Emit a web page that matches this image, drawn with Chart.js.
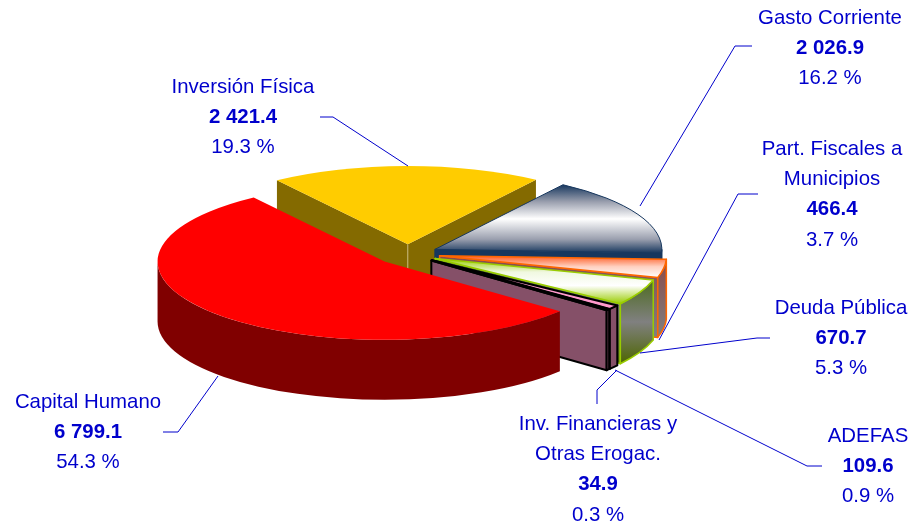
<!DOCTYPE html>
<html lang="es">
<head>
    <meta charset="UTF-8">
    <title>Gasto por capitulo</title>
    <script src="https://cdn.jsdelivr.net/npm/chart.js"></script>
    <style>
        html, body { margin: 0; padding: 0; background: #fff; }
        canvas { display: block; }
    </style>
</head>
<body>
    <canvas id="pieChart" width="913" height="525"></canvas>
    <script>
        // data, clockwise from the yellow slice
        const categories = ['Inversión Física', 'Gasto Corriente', 'Part. Fiscales a Municipios', 'Deuda Pública', 'ADEFAS', 'Inv. Financieras y Otras Erogac.', 'Capital Humano'];
        const values = [2421.4, 2026.9, 466.4, 670.7, 109.6, 34.9, 6799.1];
        const percents = [19.3, 16.2, 3.7, 5.3, 0.9, 0.3, 54.3];
        const labelLines = [
            ['Inversión Física'],
            ['Gasto Corriente'],
            ['Part. Fiscales a', 'Municipios'],
            ['Deuda Pública'],
            ['ADEFAS'],
            ['Inv. Financieras y', 'Otras Erogac.'],
            ['Capital Humano']
        ];

        // look of the pseudo 3D pie
        const squash = 0.345;
        const depth = 60;
        const explode = [28, 30, 32, 30, 30, 30, 32];
        const topColors = [
            [[0, '#FFCC00']],
            [[0, '#17375E'], [0.25, '#9A9FAE'], [0.5, '#FFFFFF'], [0.8, '#9A9FAE'], [1, '#17375E']],
            [[0, '#FF5A20'], [0.5, '#FFD0C0'], [1, '#FFFFFF']],
            [[0, '#99CC00'], [0.3, '#F0F8E0'], [0.6, '#FFFFFF'], [1, '#99CC00']],
            [[0, '#FF99CC']],
            [[0, '#FF99CC']],
            [[0, '#FF0000']]
        ];
        const wallColors = [
            [[0, '#846A00']],
            [[0, '#17375E']],
            [[0, '#8A4A4A'], [1, '#808080']],
            [[0, '#4D6B1F'], [0.5, '#808080'], [1, '#4D6600']],
            [[0, '#855068']],
            [[0, '#855068']],
            [[0, '#800000']]
        ];
        const borderColors = [null, '#17375E', '#FF6600', '#99CC00', '#000000', '#000000', null];
        const borderWidths = [0, 1, 1.5, 1.5, 2, 2, 0];

        const textColor = '#0000CC';
        const lineHeight = 30.4;
        // x center, y of first line, leader polyline
        const callouts = [
            { x: 243, y: 87, leader: [[408, 166], [333, 117], [320, 117]] },
            { x: 830, y: 18, leader: [[640, 206], [735, 46], [752, 46]] },
            { x: 832, y: 149, leader: [[659, 340], [738, 194], [758, 194]] },
            { x: 841, y: 308, leader: [[640, 353], [757, 338], [770, 338]] },
            { x: 868, y: 436, leader: [[615, 370], [807, 466], [822, 466]] },
            { x: 598, y: 424, leader: [[617, 370], [597, 390], [597, 404]] },
            { x: 88, y: 402, leader: [[218, 376], [178, 432], [163, 432]] }
        ];

        function fillFrom(ctx, stops, y0, y1) {
            if (stops.length === 1) return stops[0][1];
            const g = ctx.createLinearGradient(0, y0, 0, y1);
            stops.forEach(s => g.addColorStop(s[0], s[1]));
            return g;
        }

        function formatValue(v) {
            const parts = v.toFixed(1).split('.');
            return parts[0].replace(/\B(?=(\d{3})+$)/g, ' ') + '.' + parts[1];
        }

        const pie3d = {
            id: 'pie3d',
            beforeDatasetDraw(chart) {
                const ctx = chart.ctx;
                const arcs = chart.getDatasetMeta(0).data;
                ctx.save();
                arcs.forEach((arc, i) => {
                    const { x, y, startAngle, endAngle, outerRadius } = arc.getProps(['x', 'y', 'startAngle', 'endAngle', 'outerRadius'], true);
                    const r = outerRadius;
                    const rb = r * squash;
                    const mid = (startAngle + endAngle) / 2;
                    const ax = x + Math.cos(mid) * explode[i];
                    const ay = y + Math.sin(mid) * explode[i] * squash;
                    const px = a => ax + Math.cos(a) * r;
                    const py = a => ay + Math.sin(a) * rb;
                    const stroke = borderColors[i];
                    const paint = () => {
                        ctx.fill();
                        if (stroke) {
                            ctx.strokeStyle = stroke;
                            ctx.lineWidth = borderWidths[i];
                            ctx.lineJoin = 'round';
                            ctx.stroke();
                        }
                    };

                    const yMin = Math.min(ay, py(startAngle), py(endAngle));
                    const yMax = Math.max(ay, py(startAngle), py(endAngle));
                    const wallFill = fillFrom(ctx, wallColors[i], yMin, yMax + depth);

                    // straight cut faces that look at the viewer
                    [[startAngle, Math.cos(startAngle) < 0], [endAngle, Math.cos(endAngle) > 0]].forEach(([a, visible]) => {
                        if (!visible) return;
                        ctx.beginPath();
                        ctx.moveTo(ax, ay);
                        ctx.lineTo(px(a), py(a));
                        ctx.lineTo(px(a), py(a) + depth);
                        ctx.lineTo(ax, ay + depth);
                        ctx.closePath();
                        ctx.fillStyle = wallFill;
                        paint();
                    });

                    // rim, only the front half of the ellipse
                    const lo = Math.max(startAngle, 0);
                    const hi = Math.min(endAngle, Math.PI);
                    if (hi > lo) {
                        const wy0 = Math.min(py(lo), py(hi));
                        const wy1 = Math.max(py(lo), py(hi)) + depth;
                        ctx.beginPath();
                        ctx.ellipse(ax, ay, r, rb, 0, lo, hi);
                        ctx.ellipse(ax, ay + depth, r, rb, 0, hi, lo, true);
                        ctx.closePath();
                        ctx.fillStyle = fillFrom(ctx, wallColors[i], wy0, wy1);
                        paint();
                    }

                    // top face
                    ctx.beginPath();
                    ctx.moveTo(ax, ay);
                    ctx.ellipse(ax, ay, r, rb, 0, startAngle, endAngle);
                    ctx.closePath();
                    ctx.fillStyle = fillFrom(ctx, topColors[i], yMin, yMax);
                    paint();

                    // pale seam on the yellow slice
                    if (i === 0) {
                        ctx.strokeStyle = '#C8B878';
                        ctx.lineWidth = 1;
                        ctx.beginPath();
                        ctx.moveTo(ax, ay);
                        ctx.lineTo(ax, ay + depth);
                        ctx.stroke();
                    }
                });
                ctx.restore();
                return false;
            },
            afterDraw(chart) {
                const ctx = chart.ctx;
                ctx.save();
                ctx.textAlign = 'center';
                ctx.textBaseline = 'middle';
                ctx.fillStyle = textColor;
                callouts.forEach((c, i) => {
                    ctx.strokeStyle = textColor;
                    ctx.lineWidth = 1;
                    ctx.beginPath();
                    c.leader.forEach((p, k) => k ? ctx.lineTo(p[0], p[1]) : ctx.moveTo(p[0], p[1]));
                    ctx.stroke();

                    let y = c.y;
                    ctx.font = "20.4px 'Liberation Sans', Arial, sans-serif";
                    labelLines[i].forEach(line => {
                        ctx.fillText(line, c.x, y);
                        y += lineHeight;
                    });
                    ctx.font = "bold 20.4px 'Liberation Sans', Arial, sans-serif";
                    ctx.fillText(formatValue(values[i]), c.x, y);
                    y += lineHeight;
                    ctx.font = "20.4px 'Liberation Sans', Arial, sans-serif";
                    ctx.fillText(percents[i].toFixed(1) + ' %', c.x, y);
                });
                ctx.restore();
            }
        };

        new Chart(document.getElementById('pieChart').getContext('2d'), {
            type: 'pie',
            data: {
                labels: categories,
                datasets: [{
                    data: values,
                    backgroundColor: topColors.map(s => s[0][1]),
                    radius: 227
                }]
            },
            options: {
                responsive: false,
                animation: false,
                rotation: -35.2,
                layout: { padding: { left: 0, top: 0, right: 97, bottom: 17 } },
                plugins: { legend: { display: false }, tooltip: { enabled: false } }
            },
            plugins: [pie3d]
        });
    </script>
</body>
</html>
